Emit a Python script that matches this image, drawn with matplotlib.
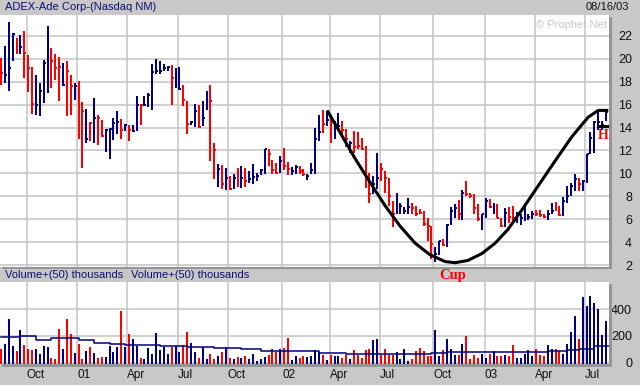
import matplotlib
matplotlib.use("Agg")
import matplotlib.pyplot as plt
from matplotlib.patches import Rectangle

# ---------------- data (weekly bars, 0-based week index) ----------------
high = [20.06, 21.16, 23.19, 22.23, 21.80, 22.09, 22.46, 20.35, 19.25, 18.55,
        17.88, 19.86, 22.87, 20.99, 20.41, 20.14, 19.62, 19.83, 18.55, 17.88,
        18.03, 16.23, 15.62, 14.49, 16.58, 15.13, 14.70, 13.88, 13.97, 14.84,
        15.48, 14.78, 14.35, 14.26, 14.20, 16.78, 16.06, 16.72, 17.01, 19.54,
        19.97, 19.77, 19.54, 19.42, 19.48, 19.19, 19.25, 17.74, 16.35, 14.61,
        16.06, 16.00, 16.29, 17.22, 17.68, 12.67, 10.78, 10.70, 10.49, 9.77,
        9.91, 10.43, 10.64, 10.43, 10.20, 10.78, 10.06, 10.35, 12.17, 12.09,
        11.19, 10.93, 11.48, 12.23, 10.99, 10.58, 10.70, 10.64, 10.35, 9.97,
        10.93, 13.97, 15.13, 15.51, 15.42, 15.13, 14.61, 15.28, 14.61, 13.91,
        12.87, 13.68, 13.59, 13.10, 12.38, 10.06, 9.77, 11.80, 10.93, 10.20,
        9.62, 7.59, 8.32, 7.45, 7.07, 7.88, 7.45, 7.16, 6.87, 6.72,
        6.14, 5.42, 3.54, 4.12, 4.26, 5.57, 7.07, 7.36, 7.65, 8.52,
        9.33, 8.32, 8.17, 7.30, 6.49, 7.88, 7.80, 7.45, 7.36, 6.14,
        7.01, 7.07, 7.16, 6.64, 6.43, 7.07, 6.49, 6.72, 6.78, 6.78,
        6.49, 6.78, 7.45, 7.51, 7.16, 7.94, 8.90, 9.19, 9.91, 9.57,
        9.39, 11.71, 13.62, 14.61, 15.36, 14.61, 15.48]
low = [17.68, 17.88, 17.16, 19.77, 20.41, 20.41, 18.32, 17.10, 15.19, 15.13,
       14.99, 16.14, 17.01, 17.45, 18.17, 16.35, 17.59, 14.99, 15.07, 16.43,
       12.96, 10.49, 12.67, 12.87, 12.67, 12.46, 13.16, 11.88, 11.30, 12.90,
       13.45, 13.04, 13.74, 12.87, 13.62, 13.68, 14.20, 15.86, 15.77, 15.54,
       18.67, 18.70, 18.90, 18.96, 16.00, 17.45, 17.30, 15.86, 13.45, 14.26,
       14.03, 13.97, 14.12, 15.57, 11.07, 9.54, 8.81, 8.61, 8.52, 8.52,
       8.61, 8.81, 8.70, 8.81, 9.19, 9.10, 9.33, 9.86, 9.91, 10.64,
       9.97, 9.97, 10.06, 10.26, 9.83, 9.86, 9.91, 9.91, 9.77, 9.42,
       9.91, 9.97, 12.87, 13.54, 14.12, 12.67, 13.04, 13.68, 13.45, 12.29,
       11.80, 11.80, 12.09, 12.00, 8.75, 7.45, 8.17, 8.61, 9.33, 8.32,
       7.16, 5.28, 6.43, 6.43, 6.43, 6.49, 6.43, 6.29, 6.43, 5.42,
       4.12, 2.52, 2.23, 2.90, 3.68, 3.59, 5.51, 6.14, 5.91, 5.91,
       8.03, 7.83, 6.49, 5.80, 5.04, 6.14, 7.01, 6.43, 6.14, 5.28,
       5.28, 5.71, 5.80, 5.71, 5.48, 5.86, 5.91, 6.00, 6.26, 6.20,
       6.09, 5.91, 6.43, 6.72, 6.29, 6.29, 7.45, 8.03, 8.46, 8.46,
       8.46, 9.19, 11.65, 11.80, 13.83, 13.83, 14.61]
close = [18.75, 18.61, 19.19, 22.14, 20.93, 21.07, 20.49, 19.19, 16.06, 16.00,
         17.16, 19.62, 20.06, 19.77, 19.19, 19.33, 17.68, 18.90, 17.59, 17.59,
         17.88, 15.42, 13.01, 14.41, 14.84, 14.84, 13.25, 13.83, 13.91, 14.41,
         14.49, 13.83, 14.26, 13.83, 13.74, 16.00, 15.94, 16.00, 16.87, 18.84,
         18.96, 18.96, 19.19, 19.33, 18.32, 18.32, 17.39, 16.43, 14.35, 14.49,
         15.42, 14.03, 14.84, 16.06, 16.35, 12.00, 10.35, 9.04, 9.57, 8.61,
         9.57, 9.97, 9.62, 9.33, 9.48, 9.68, 9.77, 10.26, 12.14, 11.65,
         10.26, 10.06, 11.07, 10.64, 10.35, 10.20, 10.58, 10.20, 9.97, 9.77,
         10.26, 12.96, 13.62, 14.32, 14.70, 14.49, 14.26, 14.12, 13.83, 12.96,
         12.67, 12.29, 12.38, 12.09, 9.48, 8.23, 9.04, 9.62, 10.35, 9.62,
         8.03, 6.43, 7.30, 7.16, 6.72, 7.07, 7.01, 6.43, 6.58, 5.57,
         5.42, 3.83, 2.96, 4.12, 3.77, 5.51, 6.72, 7.01, 6.49, 8.32,
         8.17, 8.03, 7.01, 6.00, 6.43, 7.59, 7.07, 7.07, 6.14, 5.42,
         6.58, 6.20, 6.09, 6.43, 6.14, 6.67, 6.20, 6.49, 6.43, 6.38,
         6.20, 6.49, 6.72, 7.16, 6.35, 7.59, 8.03, 8.90, 9.48, 9.04,
         9.33, 11.65, 13.10, 14.49, 14.49, 14.26, 15.36]
up = [0, 1, 1, 1, 0, 1, 0, 0, 0, 1, 1, 1, 1, 0, 0, 0, 1, 0, 0, 1,
      0, 0, 1, 0, 1, 0, 0, 1, 1, 1, 1, 0, 1, 0, 1, 1, 0, 1, 1, 1,
      1, 1, 1, 1, 0, 1, 1, 0, 0, 1, 1, 0, 1, 1, 0, 0, 1, 0, 1, 0,
      1, 0, 1, 0, 1, 1, 1, 1, 1, 0, 0, 0, 1, 0, 0, 1, 1, 0, 0, 1,
      1, 1, 1, 0, 1, 0, 1, 1, 0, 0, 1, 0, 0, 0, 0, 0, 1, 1, 0, 0,
      0, 0, 1, 1, 1, 1, 0, 0, 0, 0, 0, 0, 1, 1, 0, 1, 1, 1, 0, 1,
      0, 0, 0, 0, 1, 1, 0, 1, 0, 0, 1, 0, 0, 1, 1, 1, 1, 1, 0, 0,
      0, 1, 1, 0, 0, 1, 1, 1, 1, 0, 1, 1, 1, 1, 1, 1, 1]
volume = [100, 140, 327, 125, 90, 245, 133, 103, 95, 100,
          65, 125, 115, 33, 25, 252, 100, 327, 215, 70,
          140, 28, 90, 115, 70, 32, 40, 40, 125, 77,
          120, 390, 120, 215, 178, 125, 33, 28, 110, 65,
          220, 95, 115, 65, 115, 125, 82, 133, 232, 150,
          77, 33, 115, 25, 67, 25, 50, 82, 115, 33,
          28, 40, 37, 47, 28, 67, 10, 28, 40, 55,
          103, 82, 103, 110, 185, 20, 50, 33, 50, 40,
          50, 95, 82, 55, 20, 60, 50, 50, 35, 60,
          25, 95, 55, 35, 95, 100, 170, 180, 60, 100,
          55, 55, 78, 25, 100, 15, 30, 88, 110, 88,
          50, 50, 245, 50, 95, 180, 100, 55, 55, 140,
          198, 30, 60, 35, 67, 35, 67, 88, 48, 48,
          60, 50, 135, 35, 35, 67, 95, 50, 100, 55,
          48, 135, 100, 100, 88, 67, 140, 232, 352, 180,
          490, 425, 500, 450, 400, 210, 310]
# 50-week volume average (week index, thousands)
ma_week = [0, 5, 9, 13, 20, 24, 28, 32, 41, 48, 55, 62, 67, 82, 89,
           111, 115, 141, 146, 149, 153, 156.8]
ma_value = [190, 200, 172, 183, 170, 150, 140, 133, 122, 115, 108, 100, 90,
            72, 63, 70, 78, 88, 95, 100, 125, 125]
# cup annotation points (week index, price)
cup_week = [84.1, 87.4, 91.3, 95.2, 99.0, 102.9, 106.8, 110.6, 114.5, 117.1,
            120.4, 124.0, 127.4, 130.7, 134.3, 138.5, 142.9, 147.2, 151.4,
            154.0, 156.6]
cup_price = [15.5, 13.6, 11.3, 9.2, 7.2, 5.4, 3.9, 2.9, 2.3, 2.2,
             2.4, 3.0, 3.9, 5.1, 6.8, 8.9, 11.1, 13.2, 14.9, 15.5, 15.5]
handle_week = [154.0, 156.6]
handle_price = [14.1, 14.1]
month_pos = [6.7, 19.6, 32.5, 45.6, 58.5, 72.5, 84.8, 97.7, 111.4, 124.8,
             137.7, 150.6]
month_labels = ["Oct", "01", "Apr", "Jul", "Oct", "02", "Apr", "Jul", "Oct",
                "03", "Apr", "Jul"]
price_ticks = [2, 4, 6, 8, 10, 12, 14, 16, 18, 20, 22]
volume_ticks = [0, 200, 400]

# ---------------- style ----------------
W, H = 640, 385
BG = "#c8c8c8"
GRID = "#c4c4c4"
NAVY = "#000080"
RED = "#ff0000"
SHADOW = "#959595"
plt.rcParams["font.family"] = ["Liberation Sans", "DejaVu Sans"]

fig = plt.figure(figsize=(W / 100, H / 100), dpi=100, facecolor=BG)


def fx(px):
    return px / W


def fy(py):
    return 1 - py / H


x = list(range(len(close)))
cols = [NAVY if u else RED for u in up]
xlim = (-1 / 3.878, 608 / 3.878)

# shadows
for (x0, y0, x1, y1) in [(609, 17, 612, 269), (2, 266.5, 612, 269),
                         (609, 284, 612, 367), (2, 364, 612, 367)]:
    fig.patches.append(Rectangle((fx(x0), fy(y1)), fx(x1) - fx(x0),
                                 fy(y0) - fy(y1), transform=fig.transFigure,
                                 facecolor=SHADOW, edgecolor="none", zorder=0))

ax1 = fig.add_axes([0, fy(266.5), fx(609), fy(15) - fy(266.5)])
ax2 = fig.add_axes([0, fy(364), fx(609), fy(282) - fy(364)])

for ax in (ax1, ax2):
    ax.set_facecolor("white")
    for s in ax.spines.values():
        s.set_visible(False)
    ax.set_xlim(*xlim)
    ax.set_xticks(month_pos)
    ax.grid(True, color=GRID, lw=1.1, zorder=0)
    ax.set_axisbelow(True)
    ax.yaxis.tick_right()
    ax.tick_params(length=0, labelsize=9, labelcolor="#101010")

# price panel
ax1.set_ylim(1.87, 23.83)
ax1.set_yticks(price_ticks)
ax1.tick_params(axis="y", pad=16.6)
for lbl in ax1.get_yticklabels():
    lbl.set_horizontalalignment("right")
ax1.set_xticklabels([])
ax1.vlines(x, low, high, colors=cols, lw=1.2, antialiased=False, zorder=3)
ax1.hlines(close, x, [v + 0.5 for v in x], colors=cols, lw=1.2,
           antialiased=False, zorder=3)
ax1.plot(cup_week, cup_price, color="black", lw=2.2, zorder=4,
         solid_capstyle="butt")
ax1.plot(handle_week, handle_price, color="black", lw=2.2, zorder=4)
ax1.text(155.4, 13.35, "H", color=RED, fontsize=10, fontweight="bold",
         family=["Liberation Serif", "DejaVu Serif"], ha="center", va="center",
         zorder=5)
ax1.text(607, 25, "\u00a9 Prophet.Net", transform=None, fontsize=8)  # placeholder removed below
ax1.texts[-1].remove()

# volume panel
vbot = -9.7
ax2.set_ylim(vbot, 604)
ax2.set_yticks(volume_ticks)
ax2.tick_params(axis="y", pad=16.6)
for lbl in ax2.get_yticklabels():
    lbl.set_horizontalalignment("right")
ax2.set_xticklabels(month_labels)
ax2.tick_params(axis="x", pad=3.5, labelsize=8.5)
for lbl in ax2.get_xticklabels():
    lbl.set_horizontalalignment("left")
ax2.vlines(x, vbot, volume, colors=cols, lw=1.2, antialiased=False, zorder=3)
ax2.step(ma_week, ma_value, where="post", color=NAVY, lw=1.1, zorder=4)

# texts
fig.text(fx(5), fy(7.5), "ADEX-Ade Corp-(Nasdaq NM)", color="#101070",
         fontsize=8, ha="left", va="center")
fig.text(fx(629), fy(7.5), "08/16/03", color="#101010", fontsize=8,
         ha="right", va="center")
fig.text(fx(607), fy(25), "\u00a9 Prophet.Net", color="#c8c8c8", fontsize=8,
         ha="right", va="center")
fig.text(fx(5), fy(274.5), "Volume+(50) thousands", color="#101070",
         fontsize=8, ha="left", va="center")
fig.text(fx(131), fy(274.5), "Volume+(50) thousands", color="#101070",
         fontsize=8, ha="left", va="center")
fig.text(fx(453), fy(275), "Cup", color=RED, fontsize=10.5, fontweight="bold",
         family=["Liberation Serif", "DejaVu Serif"], ha="center", va="center")

fig.savefig("out.png", dpi=100, facecolor=BG)
